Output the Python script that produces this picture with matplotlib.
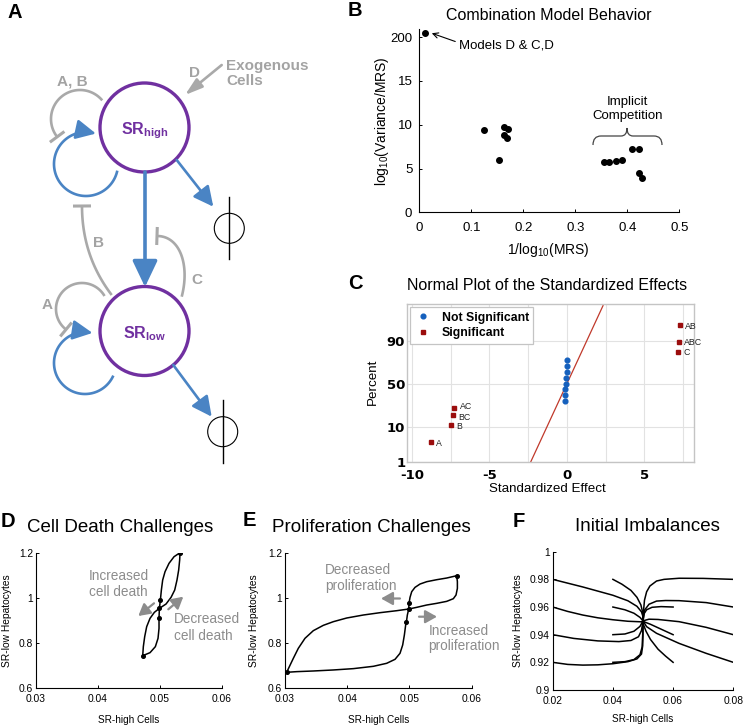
import numpy as np
import matplotlib
matplotlib.use('Agg')
import matplotlib.pyplot as plt
from matplotlib.patches import Circle, PathPatch
from matplotlib.path import Path
from matplotlib.lines import Line2D
from statistics import NormalDist
from math import comb

plt.rcParams['font.family'] = ['Liberation Sans', 'DejaVu Sans']
plt.rcParams['mathtext.fontset'] = 'custom'
plt.rcParams['mathtext.rm'] = 'Liberation Sans'
plt.rcParams['mathtext.bf'] = 'Liberation Sans:bold'
plt.rcParams['mathtext.it'] = 'Liberation Sans:italic'
plt.rcParams['axes.unicode_minus'] = False

# ---- panel B data
b_x = [0.011, 0.124, 0.154, 0.162, 0.171, 0.163, 0.169, 0.355, 0.365, 0.378, 0.390, 0.409, 0.423, 0.423, 0.428]
b_y = [20.45, 9.39, 5.97, 9.70, 9.47, 8.82, 8.44, 5.74, 5.74, 5.89, 5.93, 7.19, 7.22, 4.52, 3.88]
b_yticks = [0, 5, 10, 15, 20]
b_yticklabels = ['0', '5', '10', '15', '200']

# ---- panel C data
sig_effect = [-8.80, -7.48, -7.35, -7.27, 7.16, 7.22, 7.27]
sig_pct = [4.1, 10.7, 17.2, 23.8, 82.8, 89.3, 95.9]
sig_names = ['A', 'B', 'BC', 'AC', 'C', 'ABC', 'AB']
ns_effect = [-0.12, -0.10, -0.10, -0.08, -0.04, -0.02, -0.02, 0.02]
ns_pct = [30.3, 36.9, 43.4, 50.0, 56.6, 63.1, 69.7, 76.2]
fit_effect = [-2.33, 2.33]
fit_pct = [1, 99]
c_pct_ticks = [1, 10, 50, 90]

# ---- panel D data
d_up_x = [0.04995, 0.05011, 0.05027, 0.05048, 0.05086, 0.05150, 0.05231, 0.05328,
          0.05322, 0.05306, 0.05279, 0.05242, 0.05183, 0.05102, 0.04995]
d_up_y = [0.9538, 0.9906, 1.0348, 1.0791, 1.1159, 1.1528, 1.1822, 1.2000,
          1.1675, 1.1233, 1.0791, 1.0348, 1.0024, 0.9729, 0.9538]
d_lo_x = [0.04995, 0.04989, 0.04989, 0.04973, 0.04930, 0.04844, 0.04726,
          0.04736, 0.04758, 0.04790, 0.04844, 0.04914, 0.04995]
d_lo_y = [0.9538, 0.9096, 0.8653, 0.8211, 0.7843, 0.7577, 0.7444,
          0.7843, 0.8285, 0.8727, 0.9096, 0.9361, 0.9538]
d_dot_x = [0.05328, 0.05011, 0.04995, 0.04989, 0.04726]
d_dot_y = [1.2000, 0.9906, 0.9538, 0.9096, 0.7444]

# ---- panel E data
e_left_x = [0.04988, 0.04795, 0.04527, 0.04259, 0.03991, 0.03777, 0.03616, 0.03455, 0.03321,
            0.03214, 0.03134, 0.03070, 0.03027, 0.03188, 0.03455, 0.03777, 0.04098, 0.04420,
            0.04634, 0.04768, 0.04848, 0.04891, 0.04918, 0.04939, 0.04950, 0.04966, 0.04988]
e_left_y = [0.9508, 0.9434, 0.9346, 0.9243, 0.9110, 0.8948, 0.8786, 0.8550, 0.8211,
            0.7769, 0.7327, 0.6958, 0.6708, 0.6737, 0.6766, 0.6811, 0.6870, 0.6973,
            0.7106, 0.7282, 0.7548, 0.7916, 0.8358, 0.8801, 0.8919, 0.9243, 0.9508]
e_right_x = [0.04988, 0.04993, 0.05009, 0.05036, 0.05089, 0.05170, 0.05277, 0.05437, 0.05598,
             0.05759, 0.05770, 0.05770, 0.05748, 0.05705, 0.05598, 0.05437, 0.05277, 0.05116, 0.04988]
e_right_y = [0.9508, 0.9759, 1.0024, 1.0275, 1.0466, 1.0614, 1.0717, 1.0805, 1.0879,
             1.0982, 1.0717, 1.0422, 1.0127, 0.9965, 0.9847, 0.9759, 0.9685, 0.9582, 0.9508]
e_dot_x = [0.03027, 0.05759, 0.04993, 0.04988, 0.04950]
e_dot_y = [0.6708, 1.0982, 0.9759, 0.9508, 0.8919]

# ---- panel F data (trajectories from initial imbalances)
f_x = [
    [0.020, 0.030, 0.040, 0.045, 0.048, 0.0495, 0.0500, 0.0500],
    [0.020, 0.025, 0.030, 0.035, 0.040, 0.045, 0.0495, 0.0500],
    [0.020, 0.027, 0.035, 0.042, 0.046, 0.0485, 0.0495, 0.0500],
    [0.020, 0.025, 0.030, 0.035, 0.040, 0.045, 0.048, 0.0495, 0.0499, 0.0500, 0.0500],
    [0.040, 0.043, 0.046, 0.048, 0.0493, 0.0499, 0.0500],
    [0.040, 0.044, 0.047, 0.049, 0.0500],
    [0.040, 0.044, 0.047, 0.049, 0.0500],
    [0.040, 0.044, 0.047, 0.049, 0.0497, 0.0499, 0.0500],
    [0.080, 0.070, 0.062, 0.057, 0.0545, 0.0523, 0.0512, 0.0505, 0.0502, 0.0500],
    [0.080, 0.071, 0.062, 0.0575, 0.0545, 0.0520, 0.0506, 0.0500],
    [0.080, 0.071, 0.062, 0.055, 0.052, 0.0500],
    [0.080, 0.071, 0.062, 0.0545, 0.0512, 0.0500],
    [0.060, 0.056, 0.053, 0.0512, 0.0503, 0.0500],
    [0.060, 0.0575, 0.055, 0.0525, 0.0505, 0.0500],
    [0.060, 0.0575, 0.055, 0.0525, 0.0510, 0.0502, 0.0500],
]
f_y = [
    [0.980, 0.9745, 0.9685, 0.9645, 0.9605, 0.9565, 0.9530, 0.9500],
    [0.960, 0.9568, 0.9542, 0.9522, 0.9508, 0.9497, 0.9493, 0.9500],
    [0.940, 0.9373, 0.9355, 0.9350, 0.9358, 0.9385, 0.9430, 0.9500],
    [0.920, 0.9185, 0.9180, 0.9182, 0.9190, 0.9205, 0.9225, 0.9260, 0.9320, 0.9400, 0.9500],
    [0.980, 0.9765, 0.9720, 0.9670, 0.9615, 0.9560, 0.9500],
    [0.960, 0.9580, 0.9555, 0.9525, 0.9500],
    [0.940, 0.9405, 0.9425, 0.9460, 0.9500],
    [0.920, 0.9205, 0.9220, 0.9255, 0.9310, 0.9400, 0.9500],
    [0.980, 0.9807, 0.9808, 0.9800, 0.9788, 0.9752, 0.9710, 0.9650, 0.9580, 0.9500],
    [0.960, 0.9632, 0.9646, 0.9647, 0.9643, 0.9620, 0.9580, 0.9500],
    [0.940, 0.9453, 0.9494, 0.9510, 0.9512, 0.9500],
    [0.920, 0.9265, 0.9337, 0.9410, 0.9458, 0.9500],
    [0.960, 0.9603, 0.9598, 0.9580, 0.9550, 0.9500],
    [0.940, 0.9425, 0.9450, 0.9475, 0.9492, 0.9500],
    [0.920, 0.9245, 0.9295, 0.9365, 0.9425, 0.9470, 0.9500],
]

PURPLE = '#7030a0'
BLUE = '#4a84c4'
GRAY = '#a9a9a9'
GRAYTXT = '#a3a3a3'
ANNOT = '#8c8c8c'

W, H = 744, 726
fig = plt.figure(figsize=(W / 100, H / 100), dpi=100)


def px_axes(l, t, r, b):
    return fig.add_axes([l / W, 1 - b / H, (r - l) / W, (b - t) / H])


def matlab_style(ax, size=7.4, pad=2):
    for s in ['top', 'right']:
        ax.spines[s].set_visible(False)
    for s in ['left', 'bottom']:
        ax.spines[s].set_linewidth(0.8)
    ax.tick_params(direction='in', length=2.5, width=0.7, labelsize=size, pad=pad)
    ax.set_facecolor('none')


# ---------------- B
ax_b = px_axes(419.3, 29.3, 679.3, 212.3)
matlab_style(ax_b, size=9.5)
ax_b.tick_params(axis='x', pad=7)
ax_b.tick_params(axis='y', pad=5)
ax_b.scatter(b_x, b_y, s=16, color='k', zorder=3, clip_on=False)
ax_b.set_xlim(0, 0.5)
ax_b.set_ylim(0, 20.9)
ax_b.set_xticks([0, 0.1, 0.2, 0.3, 0.4, 0.5])
ax_b.set_xticklabels(['0', '0.1', '0.2', '0.3', '0.4', '0.5'])
ax_b.set_yticks(b_yticks)
ax_b.set_yticklabels(b_yticklabels)
ax_b.set_xlabel(r'1/log$_{10}$(MRS)', fontsize=10)
ax_b.set_ylabel(r'log$_{10}$(Variance/MRS)', fontsize=10)
ax_b.xaxis.set_label_coords(0.496, -0.206)
ax_b.xaxis.label.set_va('center')
ax_b.yaxis.set_label_coords(-0.145, 0.5)
ax_b.yaxis.label.set_va('center')
ax_b.annotate('Models D & C,D', xy=(0.024, 20.45), xytext=(0.077, 19.0),
              fontsize=9.5, ha='left', va='center',
              arrowprops=dict(arrowstyle='->', color='k', lw=0.8, shrinkA=1, shrinkB=0,
                              relpos=(0, 0.75)))
ax_b.text(0.4008, 11.8, 'Implicit\nCompetition', fontsize=9.5, ha='center', va='center',
          linespacing=1.15)

# ---------------- C
nd = NormalDist()


def zq(p):
    return [nd.inv_cdf(v / 100) for v in p]


ax_c = px_axes(407.3, 304.3, 694, 461.7)
ax_c.set_xlim(-10.3, 8.2)
ax_c.set_ylim(zq([1])[0], zq([99.1])[0])
ax_c.set_xticks([-10, -5, 0, 5])
ax_c.set_xticks([-7.5, -2.5, 2.5, 7.5], minor=True)
ax_c.set_yticks(zq(c_pct_ticks))
ax_c.set_yticklabels([str(v) for v in c_pct_ticks])
ax_c.grid(True, which='both', color='#e2e2e2', lw=0.8)
ax_c.set_axisbelow(True)
ax_c.tick_params(which='both', length=0, labelsize=9.5)
ax_c.tick_params(axis='x', pad=5.5)
ax_c.tick_params(axis='y', pad=1.5)
for lab in ax_c.get_xticklabels() + ax_c.get_yticklabels():
    lab.set_fontweight('bold')
    lab.set_family('DejaVu Sans')
for s in ax_c.spines.values():
    s.set_color('#c4c4c4')
    s.set_linewidth(1.0)
ax_c.plot(fit_effect, zq(fit_pct), color='#c0392b', lw=0.9, zorder=2)
ax_c.plot(ns_effect, zq(ns_pct), 'o', color='#1560bd', ms=3.4, zorder=3)
ax_c.plot(sig_effect, zq(sig_pct), 's', color='#9b0d0d', ms=3.4, zorder=3)
# small vertical nudges (axis units) so that the crowded labels stay apart
label_nudge = {'AC': 0.03, 'BC': -0.07}
for xv, pv, nm in zip(sig_effect, zq(sig_pct), sig_names):
    ax_c.text(xv + 0.35, pv + label_nudge.get(nm, -0.03), nm, fontsize=6.3, color='#222222',
              ha='left', va='center')
ax_c.set_xlabel('Standardized Effect', fontsize=9.6)
ax_c.set_ylabel('Percent', fontsize=9.6)
ax_c.xaxis.set_label_coords(0.49, -0.175)
ax_c.xaxis.label.set_va('center')
ax_c.yaxis.set_label_coords(-0.119, 0.51)
ax_c.yaxis.label.set_va('center')
handles = [Line2D([], [], marker='o', ls='', color='#1560bd', ms=3.4, label='Not Significant'),
           Line2D([], [], marker='s', ls='', color='#9b0d0d', ms=3.4, label='Significant')]
leg = ax_c.legend(handles=handles, loc='upper left', fancybox=False, framealpha=1,
                  edgecolor='#c4c4c4', borderaxespad=0.25, handletextpad=0.8,
                  labelspacing=0.3, borderpad=0.35, handlelength=1.4,
                  prop={'weight': 'bold', 'size': 8.8})
leg.get_frame().set_linewidth(0.9)

# ---------------- D
ax_d = px_axes(35.7, 552.7, 221.7, 688.3)
matlab_style(ax_d)
ax_d.tick_params(axis='x', pad=4)
ax_d.plot(d_up_x, d_up_y, color='k', lw=1.1)
ax_d.plot(d_lo_x, d_lo_y, color='k', lw=1.1)
ax_d.plot(d_dot_x, d_dot_y, 'o', color='k', ms=2.6)
ax_d.set_xlim(0.03, 0.06)
ax_d.set_ylim(0.6, 1.2)
ax_d.set_xticks([0.03, 0.04, 0.05, 0.06])
ax_d.set_xticklabels(['0.03', '0.04', '0.05', '0.06'])
ax_d.set_yticks([0.6, 0.8, 1.0, 1.2])
ax_d.set_yticklabels(['0.6', '0.8', '1', '1.2'])
ax_d.set_xlabel('SR-high Cells', fontsize=7.2)
ax_d.set_ylabel('SR-low Hepatocytes', fontsize=7.4)
ax_d.xaxis.set_label_coords(0.5, -0.234)
ax_d.xaxis.label.set_va('center')
ax_d.yaxis.set_label_coords(-0.154, 0.5)
ax_d.yaxis.label.set_va('center')

# ---------------- E
ax_e = px_axes(285, 552.7, 471.7, 688.3)
matlab_style(ax_e)
ax_e.tick_params(axis='x', pad=4)
ax_e.plot(e_left_x, e_left_y, color='k', lw=1.1)
ax_e.plot(e_right_x, e_right_y, color='k', lw=1.1)
ax_e.plot(e_dot_x, e_dot_y, 'o', color='k', ms=2.6)
ax_e.set_xlim(0.03, 0.06)
ax_e.set_ylim(0.6, 1.2)
ax_e.set_xticks([0.03, 0.04, 0.05, 0.06])
ax_e.set_xticklabels(['0.03', '0.04', '0.05', '0.06'])
ax_e.set_yticks([0.6, 0.8, 1.0, 1.2])
ax_e.set_yticklabels(['0.6', '0.8', '1', '1.2'])
ax_e.set_xlabel('SR-high Cells', fontsize=7.2)
ax_e.set_ylabel('SR-low Hepatocytes', fontsize=7.4)
ax_e.xaxis.set_label_coords(0.5, -0.234)
ax_e.xaxis.label.set_va('center')
ax_e.yaxis.set_label_coords(-0.166, 0.5)
ax_e.yaxis.label.set_va('center')

# ---------------- F
ax_f = px_axes(552.7, 551.7, 733.3, 690)
matlab_style(ax_f)
ax_f.tick_params(axis='x', pad=4)
for xs, ys in zip(f_x, f_y):
    ax_f.plot(xs, ys, color='k', lw=1.1)
ax_f.set_xlim(0.02, 0.08)
ax_f.set_ylim(0.9, 1.0)
ax_f.set_xticks([0.02, 0.04, 0.06, 0.08])
ax_f.set_xticklabels(['0.02', '0.04', '0.06', '0.08'])
ax_f.set_yticks([0.9, 0.92, 0.94, 0.96, 0.98, 1.0])
ax_f.set_yticklabels(['0.9', '0.92', '0.94', '0.96', '0.98', '1'])
ax_f.set_xlabel('SR-high Cells', fontsize=7.2)
ax_f.set_ylabel('SR-low Hepatocytes', fontsize=7.4)
ax_f.xaxis.set_label_coords(0.5, -0.212)
ax_f.xaxis.label.set_va('center')
ax_f.yaxis.set_label_coords(-0.19, 0.5)
ax_f.yaxis.label.set_va('center')

# ---------------- overlay in pixel coordinates (diagram A, titles, letters)
ov = fig.add_axes([0, 0, 1, 1], zorder=10)
ov.set_xlim(0, W)
ov.set_ylim(H, 0)
ov.axis('off')
ov.patch.set_visible(False)


def arc_pts(cx, cy, r, t0, t1, n=120):
    t = np.radians(np.linspace(t0, t1, n))
    return cx + r * np.cos(t), cy - r * np.sin(t)


def bez_pts(*ctrl, n=80):
    P = np.array(ctrl, float)
    k = len(P) - 1
    t = np.linspace(0, 1, n)[:, None]
    pts = sum(comb(k, i) * (1 - t) ** (k - i) * t ** i * P[i] for i in range(k + 1))
    return pts[:, 0], pts[:, 1]


def arrow_curve(xs, ys, color, lw, style, ms, back=6):
    ov.plot(xs[:-back], ys[:-back], color=color, lw=lw, solid_capstyle='butt')
    ov.annotate('', xy=(xs[-1], ys[-1]), xytext=(xs[-back], ys[-back]),
                arrowprops=dict(arrowstyle=style, color=color, lw=lw,
                                mutation_scale=ms, shrinkA=0, shrinkB=0))


def inhibit_curve(xs, ys, half=9, lw=1.9):
    ov.plot(xs, ys, color=GRAY, lw=lw, solid_capstyle='butt')
    dx, dy = xs[-1] - xs[-3], ys[-1] - ys[-3]
    n = np.hypot(dx, dy)
    px, py = -dy / n, dx / n
    ov.plot([xs[-1] - px * half, xs[-1] + px * half], [ys[-1] - py * half, ys[-1] + py * half],
            color=GRAY, lw=lw + 0.3, solid_capstyle='butt')


# nodes
for cy, sub in [(127.5, 'high'), (331, 'low')]:
    ov.add_patch(Circle((144.5, cy), 44.5, fill=False, ec=PURPLE, lw=2.4))
    ov.text(144.5, cy + 3, r'$\mathbf{SR}_{\mathbf{%s}}$' % sub, color=PURPLE, fontsize=11.5,
            ha='center', va='center')

# transition and degradation arrows
ov.annotate('', xy=(145, 287), xytext=(145, 172),
            arrowprops=dict(arrowstyle='-|>,head_length=0.8,head_width=0.38', color=BLUE, lw=2.6,
                            mutation_scale=20, shrinkA=0, shrinkB=0))
for (x0, y0, x1, y1) in [(176.7, 160, 213.3, 206.7), (173.3, 365, 211.7, 416.7)]:
    ov.annotate('', xy=(x1, y1), xytext=(x0, y0),
                arrowprops=dict(arrowstyle='-|>,head_length=0.6,head_width=0.3', color=BLUE,
                                lw=1.9, mutation_scale=20, shrinkA=0, shrinkB=0))
for (cx, cy, y0, y1) in [(229.3, 228.3, 197.3, 259.3), (222.7, 431.7, 400, 462.7)]:
    ov.add_patch(Circle((cx, cy), 15, fill=False, ec='k', lw=0.8))
    ov.plot([cx, cx], [y0, y1], color='k', lw=1.0)

# self-renewal loops
xs, ys = arc_pts(86, 164, 32, -12, -288)
arrow_curve(xs, ys, BLUE, 1.9, '-|>,head_length=0.6,head_width=0.3', 20)
xs, ys = arc_pts(85, 363, 31, -24, -284)
arrow_curve(xs, ys, BLUE, 1.9, '-|>,head_length=0.6,head_width=0.3', 20)

# inhibitory feedbacks
xs, ys = arc_pts(80, 119, 29, 40, 218)
inhibit_curve(xs, ys)
xs, ys = arc_pts(82, 309, 26, 30, 232)
inhibit_curve(xs, ys)
xs, ys = bez_pts((111.7, 295), (82, 256), (82, 206))
inhibit_curve(xs, ys)
xs, ys = bez_pts((181.7, 296.7), (190, 265), (180, 236), (157, 236))
inhibit_curve(xs, ys)
ov.annotate('', xy=(185, 95), xytext=(221.7, 65),
            arrowprops=dict(arrowstyle='-|>,head_length=0.7,head_width=0.22', color=GRAY, lw=1.9,
                            mutation_scale=15, shrinkA=0, shrinkB=0))

for (x, y, s) in [(72, 82, 'A, B'), (194, 73, 'D'), (98.3, 243.3, 'B'), (196.7, 280, 'C'),
                  (47.3, 305, 'A')]:
    ov.text(x, y, s, color=GRAYTXT, fontsize=11, fontweight='bold', ha='center', va='center')
ov.text(226, 73.5, 'Exogenous\nCells', color=GRAYTXT, fontsize=11, fontweight='bold',
        ha='left', va='center', linespacing=1.15)

# annotations in D and E
ov.text(89, 584, 'Increased\ncell death', color=ANNOT, fontsize=9.8, ha='left', va='center',
        linespacing=1.15)
ov.text(174, 627.5, 'Decreased\ncell death', color=ANNOT, fontsize=9.8, ha='left', va='center',
        linespacing=1.25)
ov.text(325, 578, 'Decreased\nproliferation', color=ANNOT, fontsize=9.8, ha='left', va='center',
        linespacing=1.15)
ov.text(428.3, 638.5, 'Increased\nproliferation', color=ANNOT, fontsize=9.8, ha='left',
        va='center', linespacing=1.15)
for (x0, y0, x1, y1) in [(154, 603.3, 138.3, 616), (168.3, 609.3, 183.3, 596.7),
                         (400, 598.5, 381, 598.5), (419, 616.7, 437, 616.7)]:
    ov.annotate('', xy=(x1, y1), xytext=(x0, y0),
                arrowprops=dict(arrowstyle='-|>,head_length=0.5,head_width=0.28', color=ANNOT,
                                lw=1.6, mutation_scale=14, shrinkA=0, shrinkB=0))

# brace for implicit competition
verts = [(593, 145), (593, 136), (601, 136), (621, 136), (627, 136), (627, 128),
         (627, 136), (633, 136), (654, 136), (662, 136), (662, 145)]
codes = [Path.MOVETO, Path.CURVE3, Path.CURVE3, Path.LINETO, Path.CURVE3, Path.CURVE3,
         Path.CURVE3, Path.CURVE3, Path.LINETO, Path.CURVE3, Path.CURVE3]
ov.add_patch(PathPatch(Path(verts, codes), fill=False, ec='#444444', lw=0.9))

# titles and panel letters
for (x, y, s) in [(15, 18.3, 'A'), (355, 16, 'B'), (355, 289.3, 'C'), (8.3, 526.7, 'D'),
                  (249, 526, 'E'), (518.3, 526.7, 'F')]:
    ov.text(x, y, s, fontsize=14.5, fontweight='bold', ha='center', va='baseline')
ov.text(548.3, 20, 'Combination Model Behavior', fontsize=11.5, ha='center', va='baseline')
ov.text(547, 290, 'Normal Plot of the Standardized Effects', fontsize=11.5, ha='center',
        va='baseline')
ov.text(26.7, 531.5, 'Cell Death Challenges', fontsize=13.5, ha='left', va='baseline')
ov.text(271.7, 531.5, 'Proliferation Challenges', fontsize=13.5, ha='left', va='baseline')
ov.text(647.5, 530.7, 'Initial Imbalances', fontsize=13.5, ha='center', va='baseline')

fig.savefig('out.png', dpi=100)
